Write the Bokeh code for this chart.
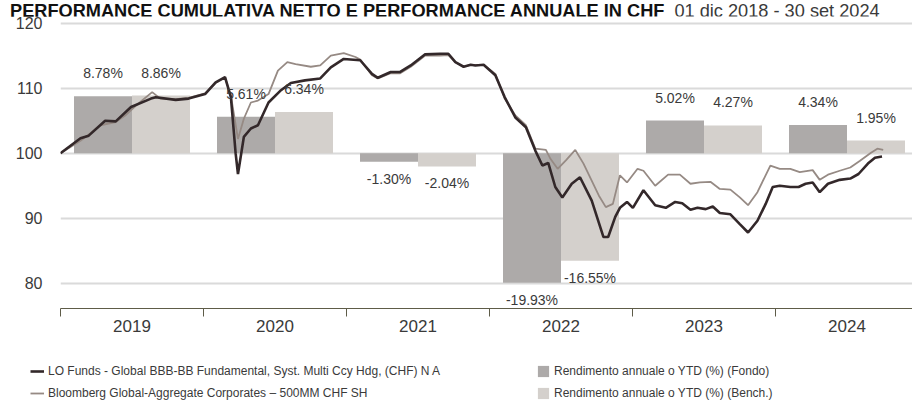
from bokeh.plotting import figure
from bokeh.layouts import column
from bokeh.models import Range1d, FixedTicker, Legend, LegendItem, Div
from bokeh.core.properties import value
from bokeh.embed import file_html
from bokeh.resources import INLINE

# ---------------- data ----------------
years = ["2019", "2020", "2021", "2022", "2023", "2024"]
fund_annual = [8.78, 5.61, -1.30, -19.93, 5.02, 4.34]
bench_annual = [8.86, 6.34, -2.04, -16.55, 4.27, 1.95]

# months since 01 dic 2018, cumulative value (base 100)
fund_months = [0.0, 1.7, 2.4, 3.8, 4.7, 6.0, 7.7, 8.1, 9.8, 10.9, 12.3, 13.2, 14.0, 14.5,
               14.9, 15.1, 15.6, 16.2, 16.8, 17.7, 18.7, 19.6, 20.8, 22.1, 23.0, 24.1,
               25.5, 26.5, 27.0, 28.1, 28.9, 29.8, 31.0, 32.3, 33.0, 33.6, 34.3, 34.9,
               35.3, 36.0, 37.0, 37.8, 38.7, 39.6, 40.4, 41.0, 41.5, 42.1, 42.7, 43.5,
               44.2, 45.2, 46.2, 46.6, 47.2, 47.6, 48.2, 48.7, 49.6, 50.6, 51.5, 52.3,
               52.9, 53.6, 54.2, 54.9, 55.5, 56.1, 57.0, 57.8, 58.5, 59.3, 60.0, 60.6,
               61.2, 62.1, 62.8, 63.4, 64.0, 64.6, 65.3, 66.3, 67.2, 67.9, 68.7, 69.3, 69.9]
fund_values = [100.0, 102.3, 102.7, 105.0, 104.9, 107.1, 108.4, 108.6, 108.2, 108.4, 109.1, 110.9, 111.7, 108.6,
               100.0, 96.8, 102.5, 103.8, 104.3, 107.8, 109.6, 110.8, 111.2, 111.5, 113.2, 114.5,
               114.3, 112.2, 111.6, 112.5, 112.5, 113.5, 115.2, 115.3, 115.3, 114.0, 113.3, 113.6,
               113.5, 113.6, 112.0, 108.6, 105.5, 104.0, 100.4, 98.1, 98.5, 94.8, 93.2, 95.3,
               96.3, 92.7, 87.1, 87.1, 90.2, 91.6, 92.5, 91.6, 94.3, 92.0, 91.6, 92.5,
               92.3, 91.3, 91.6, 91.4, 91.8, 90.8, 90.6, 89.1, 87.8, 89.6, 92.2, 94.8,
               95.0, 94.8, 94.8, 95.3, 95.5, 94.0, 95.3, 95.9, 96.1, 96.8, 98.4, 99.3, 99.5]

bench_months = [0.0, 1.7, 3.4, 4.7, 5.5, 6.4, 7.8, 8.5, 9.8, 10.9, 12.3, 13.2, 14.0, 14.5,
                15.1, 15.6, 16.2, 16.8, 17.7, 18.5, 19.3, 20.0, 21.3, 22.1, 23.0, 24.1,
                25.1, 25.5, 26.5, 27.0, 28.1, 28.9, 29.8, 31.0, 32.3, 33.0, 33.6, 34.3,
                34.9, 36.0, 37.0, 37.8, 38.7, 39.6, 40.4, 41.3, 41.7, 42.3, 43.0, 43.8,
                44.5, 45.8, 46.4, 47.0, 47.6, 48.2, 49.1, 49.6, 50.6, 51.7, 52.7, 53.6,
                54.4, 55.3, 56.1, 57.0, 57.8, 58.5, 59.3, 60.4, 61.2, 62.1, 62.9, 64.0,
                64.6, 65.3, 66.3, 67.2, 68.0, 68.9, 69.5, 70.0]
bench_values = [100.0, 101.9, 104.3, 104.8, 105.8, 107.3, 109.4, 108.4, 108.3, 108.5, 109.2, 110.8, 111.6, 108.8,
                102.2, 105.3, 107.8, 108.1, 109.1, 112.7, 114.0, 113.7, 113.3, 113.5, 115.0, 115.4,
                114.8, 114.4, 112.0, 111.5, 112.3, 112.3, 113.3, 115.0, 115.0, 115.1, 114.0, 113.3,
                113.6, 113.6, 112.2, 108.4, 105.8, 104.3, 100.7, 100.5, 99.1, 97.6, 98.9, 100.5,
                98.4, 93.5, 91.7, 92.2, 96.6, 95.5, 97.6, 97.3, 95.0, 96.7, 96.7, 95.3,
                95.5, 95.6, 94.5, 94.4, 93.2, 92.0, 94.0, 98.1, 97.6, 97.6, 97.1, 97.4,
                95.9, 96.7, 97.3, 97.8, 98.8, 100.0, 100.7, 100.5]

y_ticks = [80, 90, 100, 110, 120]

title_bold = "PERFORMANCE CUMULATIVA NETTO E PERFORMANCE ANNUALE IN CHF"
title_period = "01 dic 2018 - 30 set 2024"
fund_name = "LO Funds - Global BBB-BB Fundamental, Syst. Multi Ccy Hdg, (CHF) N A"
bench_name = "Bloomberg Global-Aggregate Corporates \u2013 500MM CHF SH"
fund_bar_name = "Rendimento annuale o YTD (%) (Fondo)"
bench_bar_name = "Rendimento annuale o YTD (%) (Bench.)"

# ---------------- style ----------------
FONT = "Liberation Sans"
TEXT = "#3a3a3a"
FUND_BAR = "#adaaa9"
BENCH_BAR = "#d4d0cc"
FUND_LINE = "#33282a"
BENCH_LINE = "#968a84"
GRID = "#dadada"
AXIS = "#5e5c48"

PAGE_W, PAGE_H = 912, 403
TITLE_H = 16
MAIN_H = 332
LEG_H = PAGE_H - TITLE_H - MAIN_H
LEFT = 60
FRAME_H = 292
BAND_PX = 143.0
PX_PER_UNIT = 6.5
Y100_FROM_TOP = 136.7
MONTH_PX = 822.7 / 70.0

frame_w = PAGE_W - LEFT
y_lo = 100 - (FRAME_H - Y100_FROM_TOP) / PX_PER_UNIT
y_hi = 100 + Y100_FROM_TOP / PX_PER_UNIT

# ---------------- title ----------------
title_div = Div(
    text=(f'<div style="padding-left:10px;padding-top:2px;white-space:nowrap;line-height:18px;'
          f'font-family:\'Liberation Sans\';">'
          f'<span style="font-weight:bold;font-size:18.2px;color:#111111;">{title_bold}</span>'
          f'<span style="font-size:18.2px;color:{TEXT};margin-left:10px;">{title_period}</span>'
          f'</div>'),
    width=PAGE_W, height=TITLE_H, margin=0)

# ---------------- main chart ----------------
p = figure(width=PAGE_W, height=MAIN_H, output_backend="svg", toolbar_location=None, title=None,
           x_range=Range1d(0, frame_w / BAND_PX), y_range=Range1d(y_lo, y_hi),
           min_border_left=LEFT, min_border_right=0, min_border_top=0,
           min_border_bottom=MAIN_H - FRAME_H, margin=0)
p.extra_x_ranges = {"months": Range1d(0, frame_w / MONTH_PX)}
p.outline_line_color = None
p.background_fill_color = "white"
p.border_fill_color = "white"

p.xgrid.visible = False
p.ygrid.grid_line_color = GRID
p.ygrid.grid_line_width = 2
p.ygrid.ticker = FixedTicker(ticks=y_ticks)

p.yaxis.ticker = FixedTicker(ticks=y_ticks)
p.yaxis.axis_line_color = None
p.yaxis.major_tick_line_color = None
p.yaxis.minor_tick_line_color = None
p.yaxis.major_tick_out = 0
p.yaxis.major_label_standoff = 18
p.yaxis.major_label_text_font = FONT
p.yaxis.major_label_text_font_size = "16px"
p.yaxis.major_label_text_color = TEXT

centers = [i + 0.5 for i in range(len(years))]
p.xaxis.ticker = FixedTicker(ticks=centers, minor_ticks=list(range(len(years) + 1)))
p.xaxis.major_label_overrides = {c: y for c, y in zip(centers, years)}
p.xaxis.axis_line_color = AXIS
p.xaxis.axis_line_width = 1.2
p.xaxis.major_tick_line_color = None
p.xaxis.major_tick_out = 0
p.xaxis.minor_tick_line_color = AXIS
p.xaxis.minor_tick_out = 8
p.xaxis.minor_tick_in = 0
p.xaxis.major_label_standoff = 3
p.xaxis.major_label_text_font = FONT
p.xaxis.major_label_text_font_size = "17px"
p.xaxis.major_label_text_color = TEXT

# bars
bw = 58.0 / BAND_PX
fund_x = [c - bw / 2 for c in centers]
bench_x = [c + bw / 2 for c in centers]
p.vbar(x=fund_x, width=bw, bottom=100, top=[100 + v for v in fund_annual],
       fill_color=FUND_BAR, line_color=None)
p.vbar(x=bench_x, width=bw, bottom=100, top=[100 + v for v in bench_annual],
       fill_color=BENCH_BAR, line_color=None)

# lines
p.line(bench_months, bench_values, x_range_name="months", line_color=BENCH_LINE, line_width=1.8)
p.line(fund_months, fund_values, x_range_name="months", line_color=FUND_LINE, line_width=2.6)

# bar labels
for xs, vals in ((fund_x, fund_annual), (bench_x, bench_annual)):
    pos = [(x, v) for x, v in zip(xs, vals) if v >= 0]
    neg = [(x, v) for x, v in zip(xs, vals) if v < 0]
    p.text(x=[a for a, _ in pos], y=[100 + b for _, b in pos],
           text=[f"{b:.2f}%" for _, b in pos], y_offset=-23,
           text_align="center", text_baseline="middle", text_font=value(FONT),
           text_font_size="14px", text_color=TEXT)
    p.text(x=[a for a, _ in neg], y=[100 + b for _, b in neg],
           text=[f"{b:.2f}%" for _, b in neg], y_offset=17,
           text_align="center", text_baseline="middle", text_font=value(FONT),
           text_font_size="14px", text_color=TEXT)

# ---------------- legend strip ----------------
pl = figure(width=PAGE_W, height=LEG_H, output_backend="svg", toolbar_location=None, title=None,
            x_range=Range1d(0, 1), y_range=Range1d(0, 1), x_axis_location=None,
            y_axis_location=None, min_border=0, margin=0)
pl.grid.visible = False
pl.outline_line_color = None
# legend key proxies (kept outside the visible range: only their legend swatches show)
lg_fund = pl.line([-2, -1], [-2, -1], line_color=FUND_LINE, line_width=2.6)
lg_bench = pl.line([-2, -1], [-2, -1], line_color=BENCH_LINE, line_width=1.8)
lg_fbar = pl.vbar(x=[-2], top=[-1], bottom=-2, width=0.1, fill_color=FUND_BAR, line_color=None)
lg_bbar = pl.vbar(x=[-2], top=[-1], bottom=-2, width=0.1, fill_color=BENCH_BAR, line_color=None)

legend = Legend(items=[LegendItem(label=fund_name, renderers=[lg_fund]),
                       LegendItem(label=bench_name, renderers=[lg_bench]),
                       LegendItem(label=fund_bar_name, renderers=[lg_fbar]),
                       LegendItem(label=bench_bar_name, renderers=[lg_bbar])],
                orientation="vertical", nrows=2, location=(30, 3),
                border_line_color=None, background_fill_alpha=0, padding=0, margin=0,
                glyph_width=14, glyph_height=14, label_height=14, label_width=480,
                spacing=8, label_standoff=4, label_text_font=FONT,
                label_text_font_size="12px", label_text_color=TEXT)
pl.add_layout(legend)

layout = column(title_div, p, column(pl, margin=0, spacing=0), spacing=0)
open("out.html", "w").write(file_html(layout, INLINE))
